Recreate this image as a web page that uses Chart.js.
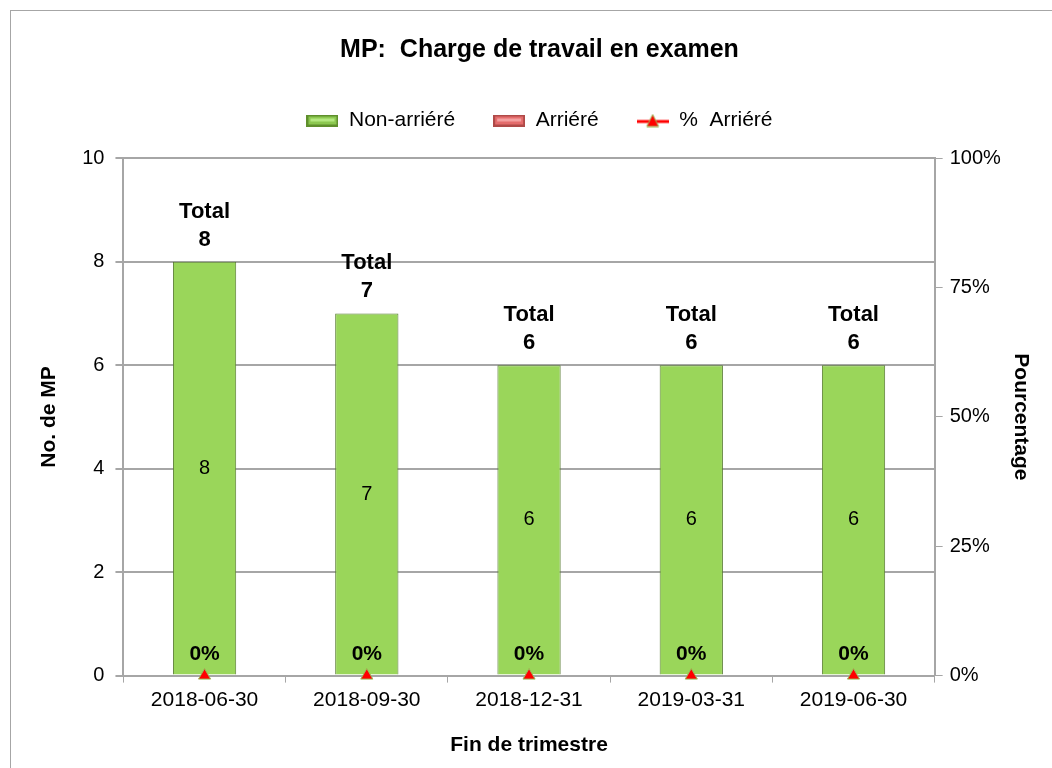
<!DOCTYPE html>
<html>
<head>
<meta charset="utf-8">
<script src="https://cdn.jsdelivr.net/npm/chart.js@4/dist/chart.umd.min.js"></script>
<style>
  html, body { margin: 0; padding: 0; background: #fff; }
  body { width: 1052px; height: 768px; overflow: hidden; position: relative; }
  #frame {
    position: absolute; left: 10px; top: 10px; width: 1060px; height: 780px;
    border: 1px solid #a6a6a6; box-sizing: border-box;
  }
  #wrap { position: absolute; left: 11px; top: 11px; width: 1041px; height: 757px; }
</style>
</head>
<body>
<div id="frame"></div>
<div id="wrap"><canvas id="chart"></canvas></div>
<script>
const categories = ['2018-06-30', '2018-09-30', '2018-12-31', '2019-03-31', '2019-06-30'];
const nonArriere = [8, 7, 6, 6, 6];
const arriere = [0, 0, 0, 0, 0];
const pctArriere = [0, 0, 0, 0, 0];
const totals = [8, 7, 6, 6, 6];
const leftTicks = [0, 2, 4, 6, 8, 10];
const rightTicks = [0, 0.25, 0.5, 0.75, 1];

const FONT = '"Liberation Sans", Arial, sans-serif';
const GRID = '#a6a6a6';

function barFill(context) {
  const { chart } = context;
  const el = context.element;
  if (!chart.chartArea || !el || el.width === undefined) return '#9ad65a';
  const x0 = el.x - el.width / 2;
  const g = chart.ctx.createLinearGradient(x0, 0, x0 + el.width, 0);
  g.addColorStop(0, '#88c44a');
  g.addColorStop(0.06, '#a6e066');
  g.addColorStop(0.12, '#9ad65a');
  g.addColorStop(0.9, '#98d458');
  g.addColorStop(0.94, '#74a83a');
  g.addColorStop(1, '#5e8c2c');
  return g;
}

// little legend icons drawn on tiny canvases
function makeBoxIcon(light, mid, dark) {
  const c = document.createElement('canvas');
  c.width = 32;
  c.height = 12;
  const x = c.getContext('2d');
  x.fillStyle = dark;
  x.fillRect(0, 0, 32, 12);
  x.fillStyle = mid;
  x.fillRect(2, 2, 28, 8);
  x.fillStyle = light;
  x.fillRect(4, 4, 24, 3);
  return c;
}

function makeLineIcon() {
  const c = document.createElement('canvas');
  c.width = 32;
  c.height = 14;
  const x = c.getContext('2d');
  x.strokeStyle = '#ff0000';
  x.lineWidth = 3;
  x.beginPath();
  x.moveTo(0, 8);
  x.lineTo(32, 8);
  x.stroke();
  x.fillStyle = '#ff0000';
  x.strokeStyle = '#9bbb59';
  x.lineWidth = 1;
  x.beginPath();
  x.moveTo(16, 1);
  x.lineTo(22, 13);
  x.lineTo(10, 13);
  x.closePath();
  x.fill();
  x.stroke();
  return c;
}

const labelPlugin = {
  id: 'labels',
  afterDatasetsDraw(chart) {
    const { ctx } = chart;
    const bars = chart.getDatasetMeta(0).data;
    const points = chart.getDatasetMeta(2).data;
    ctx.save();
    ctx.textAlign = 'center';
    ctx.textBaseline = 'middle';
    ctx.fillStyle = '#000';
    bars.forEach((bar, i) => {
      ctx.font = '20px ' + FONT;
      ctx.fillText(String(nonArriere[i]), bar.x, (bar.y + bar.base) / 2);
      ctx.font = 'bold 22px ' + FONT;
      ctx.fillText('Total', bar.x, bar.y - 50);
      ctx.fillText(String(totals[i]), bar.x, bar.y - 22);
    });
    points.forEach((pt, i) => {
      ctx.font = 'bold 21px ' + FONT;
      ctx.fillText(Math.round(pctArriere[i] * 100) + '%', pt.x, pt.y - 21);
    });
    ctx.restore();
  }
};

new Chart(document.getElementById('chart'), {
  type: 'bar',
  data: {
    labels: categories,
    datasets: [
      {
        label: 'Non-arriéré',
        data: nonArriere,
        backgroundColor: barFill,
        borderColor: '#5a7d34',
        borderWidth: 1,
        stack: 'mp',
        yAxisID: 'y',
        barPercentage: 0.39,
        categoryPercentage: 1,
        order: 2
      },
      {
        label: 'Arriéré',
        data: arriere,
        backgroundColor: '#e46c6c',
        borderColor: '#c0504d',
        borderWidth: 0,
        stack: 'mp',
        yAxisID: 'y',
        barPercentage: 0.39,
        categoryPercentage: 1,
        order: 2
      },
      {
        type: 'line',
        label: '%  Arriéré',
        data: pctArriere,
        yAxisID: 'y1',
        showLine: false,
        borderColor: '#ff0000',
        borderWidth: 3,
        backgroundColor: '#ff0000',
        pointStyle: 'triangle',
        pointRadius: 7,
        pointBackgroundColor: '#ff0000',
        pointBorderColor: '#9bbb59',
        pointBorderWidth: 1,
        clip: false,
        order: 1
      }
    ]
  },
  options: {
    responsive: true,
    maintainAspectRatio: false,
    animation: false,
    layout: { padding: { top: 20, right: 10, bottom: 10, left: 26 } },
    plugins: {
      title: {
        display: true,
        text: 'MP:  Charge de travail en examen',
        color: '#000',
        font: { family: FONT, size: 25, weight: 'bold' },
        padding: { top: 4, bottom: 7 }
      },
      subtitle: {
        display: true,
        text: '',
        weight: 500,
        font: { size: 1 },
        padding: { top: 0, bottom: 16 }
      },
      legend: {
        display: true,
        labels: {
          color: '#000',
          font: { family: FONT, size: 21 },
          usePointStyle: true,
          pointStyleWidth: 32,
          boxHeight: 12,
          padding: 38,
          generateLabels(chart) {
            const ds = chart.data.datasets;
            return [
              { text: ds[0].label, pointStyle: makeBoxIcon('#b4e880', '#8cc850', '#5f8f2c'), datasetIndex: 0 },
              { text: ds[1].label, pointStyle: makeBoxIcon('#f4a0a0', '#e46c6c', '#b04a48'), datasetIndex: 1 },
              { text: ds[2].label, pointStyle: makeLineIcon(), datasetIndex: 2 }
            ];
          }
        }
      },
      tooltip: { enabled: false }
    },
    scales: {
      x: {
        stacked: true,
        offset: true,
        grid: { display: true, drawOnChartArea: false, offset: true, color: GRID, tickLength: 7 },
        border: { color: GRID, width: 2 },
        ticks: { color: '#000', font: { family: FONT, size: 21 }, padding: 5, maxRotation: 0 },
        title: {
          display: true,
          text: 'Fin de trimestre',
          color: '#000',
          font: { family: FONT, size: 21, weight: 'bold' },
          padding: { top: 15, bottom: 0 }
        }
      },
      y: {
        stacked: true,
        position: 'left',
        min: 0,
        max: 10,
        afterBuildTicks(scale) { scale.ticks = leftTicks.map((v) => ({ value: v })); },
        grid: { color: GRID, lineWidth: 2, tickLength: 8 },
        border: { color: GRID, width: 2 },
        ticks: { color: '#000', font: { family: FONT, size: 20 }, padding: 11 },
        title: {
          display: true,
          text: 'No. de MP',
          color: '#000',
          font: { family: FONT, size: 21, weight: 'bold' },
          padding: { top: 0, bottom: 9 }
        }
      },
      y1: {
        position: 'right',
        min: 0,
        max: 1,
        afterBuildTicks(scale) { scale.ticks = rightTicks.map((v) => ({ value: v })); },
        grid: { drawOnChartArea: false, color: GRID, lineWidth: 1, tickLength: 8 },
        border: { color: GRID, width: 2 },
        ticks: {
          color: '#000',
          font: { family: FONT, size: 20 },
          padding: 7,
          callback(value) { return Math.round(value * 100) + '%'; }
        },
        title: {
          display: true,
          text: 'Pourcentage',
          color: '#000',
          font: { family: FONT, size: 21, weight: 'bold' },
          padding: { top: 9, bottom: 0 }
        }
      }
    }
  },
  plugins: [labelPlugin]
});
</script>
</body>
</html>
